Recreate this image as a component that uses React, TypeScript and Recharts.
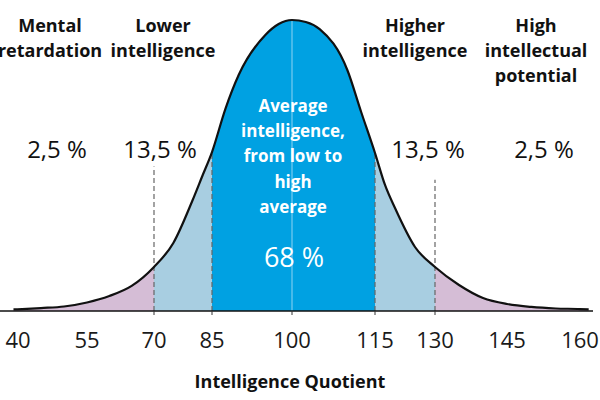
import React from 'react';
import { ComposedChart, Area, Line, XAxis, YAxis, ReferenceLine } from 'recharts';

// ---- data ----
const iqValues = [39, 45, 50, 55, 60, 65, 70, 75, 80, 82.5, 85, 87.5, 90, 95, 97.5, 100, 102.5, 105, 110, 112.5, 115, 117.5, 120, 125, 130, 135, 140, 145, 150, 155, 160, 162];
const densityValues = [0.14, 0.27, 0.41, 0.78, 1.37, 2.29, 4.02, 6.22, 10.15, 12.34, 14.53, 18.46, 21.57, 25.23, 26.23, 26.6, 26.42, 25.77, 22.03, 18.19, 14.44, 11.52, 9.41, 5.85, 4.02, 2.38, 1.19, 0.64, 0.37, 0.23, 0.18, 0.14];

const tickValues = [40, 55, 70, 85, 100, 115, 130, 145, 160];
const innerTicks = [70, 85, 100, 115, 130];

const bandFrom = [39, 70, 85, 115, 130];
const bandTo = [70, 85, 115, 130, 162];
const bandColors = ['#D5BDD6', '#A8CEE1', '#00A1E2', '#A8CEE1', '#D5BDD6'];

const dividerIQ = [70, 85, 115, 130];
const dividerTop = [13.2, 14.53, 14.44, 12.0];

const groupTitles = [['Mental', 'retardation'], ['Lower', 'intelligence'], ['Higher', 'intelligence'], ['High', 'intellectual', 'potential']];
const groupPercents = ['2,5 %', '13,5 %', '13,5 %', '2,5 %'];
const centerLines = ['Average', 'intelligence,', 'from low to', 'high', 'average'];
const centerPercent = '68 %';
const axisTitle = 'Intelligence Quotient';

// ---- layout (positions, not data) ----
const titleX = [50, 163, 415, 536];
const percentX = [57, 160, 428, 544];
const FONT = '"Open Sans", "Noto Sans", sans-serif';

// The reference draws its IQ ticks with uneven spacing; knots of that spacing
const warpIQ = [36, 40, 55, 70, 85, 100, 115, 130, 145, 160, 163];
const warpPos = [0, 18, 87, 154, 212, 292, 375, 435, 507, 580, 593];

function frac(v: number) {
  const n = warpIQ.length;
  let i = 0;
  while (i < n - 2 && v > warpIQ[i + 1]) i++;
  const t = (v - warpIQ[i]) / (warpIQ[i + 1] - warpIQ[i]);
  return warpPos[i] + t * (warpPos[i + 1] - warpPos[i]);
}
function unfrac(p: number) {
  const n = warpPos.length;
  let i = 0;
  while (i < n - 2 && p > warpPos[i + 1]) i++;
  const t = (p - warpPos[i]) / (warpPos[i + 1] - warpPos[i]);
  return warpIQ[i] + t * (warpIQ[i + 1] - warpIQ[i]);
}

function warpScale(): any {
  let dom: number[] = [warpIQ[0], warpIQ[warpIQ.length - 1]];
  let rng: number[] = [0, 1];
  const s: any = (v: any) => {
    const x = Number(v);
    const f0 = frac(dom[0]);
    const f1 = frac(dom[dom.length - 1]);
    const f = (frac(x) - f0) / (f1 - f0);
    return rng[0] + f * (rng[rng.length - 1] - rng[0]);
  };
  s.domain = function (d?: any) {
    if (d === undefined) return dom.slice();
    dom = Array.from(d as number[]).map(Number);
    return s;
  };
  s.range = function (r?: any) {
    if (r === undefined) return rng.slice();
    rng = Array.from(r as number[]).map(Number);
    return s;
  };
  s.invert = (p: number) => {
    const f0 = frac(dom[0]);
    const f1 = frac(dom[dom.length - 1]);
    const f = (p - rng[0]) / (rng[rng.length - 1] - rng[0]);
    return unfrac(f0 + f * (f1 - f0));
  };
  s.copy = () => warpScale().domain(dom).range(rng);
  s.ticks = () => tickValues.slice();
  s.tickFormat = () => (d: any) => String(d);
  s.nice = () => s;
  s.clamp = () => s;
  return s;
}

const rows = iqValues.map((iq, i) => {
  const row: any = { iq, density: densityValues[i] };
  bandFrom.forEach((f, b) => {
    row['band' + b] = iq >= f && iq <= bandTo[b] ? densityValues[i] : null;
  });
  return row;
});

const xScale = warpScale();

const Tick = (props: any) => {
  const { x, payload } = props;
  const v = payload.value;
  return (
    <g>
      {innerTicks.includes(v) ? <line x1={x} x2={x} y1={311} y2={315} stroke="#333" strokeWidth={1} /> : null}
      <text x={x} y={348} textAnchor="middle" fontSize={22} fontFamily={FONT} fill="#1a1a1a">
        {v}
      </text>
    </g>
  );
};

export default function App() {
  return (
    <div style={{ position: 'absolute', left: 0, top: 0, width: 600, height: 400, background: '#fff' }}>
      <ComposedChart width={600} height={400} data={rows} margin={{ top: 20, right: 7, left: 0, bottom: 49 }}>
        <XAxis
          dataKey="iq"
          type="number"
          scale={xScale}
          domain={[36, 163]}
          ticks={tickValues}
          height={40}
          interval={0}
          tickLine={false}
          axisLine={{ stroke: '#111', strokeWidth: 1.5 }}
          tick={<Tick />}
        />
        <YAxis hide type="number" domain={[0, 26.6]} />
        {bandColors.map((c, b) => (
          <Area
            key={'band' + b}
            dataKey={'band' + b}
            type="monotone"
            stroke="none"
            fill={c}
            fillOpacity={1}
            isAnimationActive={false}
            connectNulls={false}
            activeDot={false}
          />
        ))}
        <ReferenceLine
          segment={[{ x: 100, y: 0 }, { x: 100, y: 26.6 }]}
          stroke="#8fd3f2"
          strokeWidth={1}
        />
        {dividerIQ.map((x, i) => (
          <ReferenceLine
            key={'d' + x}
            segment={[{ x, y: 0 }, { x, y: dividerTop[i] }]}
            stroke="#666"
            strokeWidth={1.2}
            strokeDasharray="5 3"
          />
        ))}
        <Line
          dataKey="density"
          type="monotone"
          stroke="#111"
          strokeWidth={2.2}
          dot={false}
          activeDot={false}
          isAnimationActive={false}
        />
      </ComposedChart>
      <svg width={600} height={400} style={{ position: 'absolute', left: 0, top: 0, pointerEvents: 'none' }}>
        {groupTitles.map((lines, g) => (
          <text key={'t' + g} x={titleX[g]} textAnchor="middle" fontSize={18} fontWeight={700} fontFamily={FONT} fill="#111">
            {lines.map((l, k) => (
              <tspan key={k} x={titleX[g]} y={32 + k * 25}>
                {l}
              </tspan>
            ))}
          </text>
        ))}
        {groupPercents.map((p, g) => (
          <text key={'p' + g} x={percentX[g]} y={158} textAnchor="middle" fontSize={24} fontWeight={500} fontFamily={FONT} fill="#111">
            {p}
          </text>
        ))}
        <text x={293} textAnchor="middle" fontSize={17} fontWeight={700} fontFamily={FONT} fill="#fff">
          {centerLines.map((l, k) => (
            <tspan key={k} x={293} y={112 + k * 25.2}>
              {l}
            </tspan>
          ))}
        </text>
        <text x={294} y={267} textAnchor="middle" fontSize={27} fontWeight={500} fontFamily={FONT} fill="#fff">
          {centerPercent}
        </text>
        <text x={290} y={388} textAnchor="middle" fontSize={18} fontWeight={700} fontFamily={FONT} fill="#111">
          {axisTitle}
        </text>
      </svg>
    </div>
  );
}
